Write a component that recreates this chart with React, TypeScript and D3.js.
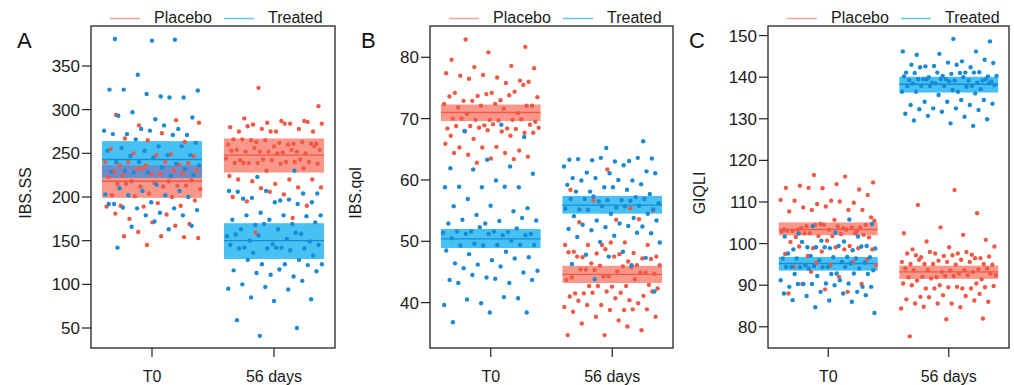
import React from "react";
import * as d3 from "d3";

const timepoints = ["T0", "56 days"];
const groupNames = ["Placebo", "Treated"];

// ---- Panel A: IBS.SS ----
const ibsssTicks = [50, 100, 150, 200, 250, 300, 350];
const ibsssPlaceboT0 = [294, 288, 282, 285, 273, 267, 263, 265, 255, 249, 250, 247, 248, 236, 237, 233, 240, 240, 240, 239, 226, 229, 230, 232, 230, 226, 225, 227, 236, 223, 218, 218, 219, 216, 215, 213, 212, 209, 212, 215, 213, 204, 202, 200, 201, 196, 193, 190, 190, 189, 189, 180, 175, 169, 171, 181, 167, 160, 153, 155, 155, 154, 145];
const ibsssTreatedT0 = [379, 381, 380, 340, 322, 315, 323, 314, 318, 323, 314, 297, 291, 289, 293, 278, 278, 276, 282, 272, 271, 276, 272, 271, 266, 262, 258, 256, 258, 253, 253, 248, 247, 248, 245, 240, 238, 240, 236, 234, 230, 232, 228, 229, 224, 228, 225, 214, 210, 207, 207, 203, 202, 202, 200, 194, 192, 187, 187, 185, 182, 188, 179, 179, 192, 163, 166, 167, 172, 142];
const ibsssPlacebo56 = [325, 304, 287, 290, 287, 285, 280, 284, 283, 275, 275, 275, 278, 278, 284, 284, 281, 286, 275, 266, 261, 263, 261, 262, 266, 263, 265, 260, 260, 265, 261, 258, 254, 252, 252, 254, 251, 252, 250, 252, 253, 254, 256, 258, 250, 242, 243, 243, 244, 240, 239, 240, 242, 239, 240, 239, 238, 238, 239, 233, 230, 224, 220, 218, 220, 215, 220, 211, 210, 211, 203, 195, 190, 206, 200, 176, 159];
const ibsssTreated56 = [230, 223, 204, 196, 198, 204, 207, 207, 197, 199, 194, 194, 206, 192, 182, 179, 179, 179, 178, 174, 174, 169, 168, 171, 163, 163, 158, 169, 155, 152, 150, 149, 146, 157, 159, 156, 145, 142, 142, 141, 141, 145, 139, 136, 133, 142, 141, 128, 123, 123, 123, 128, 122, 111, 116, 109, 113, 115, 117, 100, 104, 97, 95, 94, 85, 83, 81, 59, 50, 41];
const ibsssPlaceboFit = [218, 248];
const ibsssPlaceboLo = [199, 228];
const ibsssPlaceboHi = [236, 267];
const ibsssTreatedFit = [243, 150];
const ibsssTreatedLo = [222, 129];
const ibsssTreatedHi = [264, 170];

// ---- Panel B: IBS.qol ----
const ibsqolTicks = [40, 50, 60, 70, 80];
const ibsqolPlaceboT0 = [82.9, 81.7, 80.8, 79.6, 78.6, 78.4, 78.2, 76.7, 77.0, 76.2, 77.1, 77.4, 75.8, 76.5, 76.0, 74.2, 74.2, 74.4, 73.7, 73.5, 73.0, 72.9, 75.5, 74.0, 73.6, 73.8, 72.9, 72.1, 72.4, 71.8, 70.9, 72.1, 72.4, 71.6, 70.8, 72.1, 69.8, 70.0, 69.8, 69.8, 69.5, 69.7, 70.0, 69.9, 68.9, 68.4, 68.4, 68.8, 69.0, 69.1, 68.8, 68.3, 68.5, 68.5, 67.9, 67.9, 67.7, 68.1, 67.2, 67.2, 66.7, 67.7, 65.4, 65.3, 64.8, 65.3, 65.9, 64.4, 64.1, 63.8, 63.5, 64.4, 63.4, 62.8];
const ibsqolTreatedT0 = [69.0, 68.0, 67.0, 63.3, 61.9, 62.2, 61.7, 61.0, 59.9, 58.9, 58.8, 58.8, 58.8, 58.9, 56.9, 55.4, 55.8, 55.7, 54.9, 54.3, 53.4, 53.3, 53.5, 53.8, 52.9, 52.9, 51.5, 51.6, 51.2, 51.6, 51.6, 52.1, 52.3, 51.4, 51.0, 51.2, 51.0, 51.2, 50.5, 50.1, 49.6, 49.4, 49.4, 49.3, 49.4, 49.3, 48.5, 48.3, 47.9, 47.4, 46.9, 46.4, 47.2, 46.2, 45.2, 45.9, 45.6, 44.9, 44.1, 43.7, 43.2, 44.5, 43.7, 43.9, 43.2, 40.7, 39.9, 39.6, 40.9, 40.5, 38.4, 38.4, 36.8];
const ibsqolPlacebo56 = [61.7, 58.4, 55.4, 56.7, 55.0, 53.5, 53.1, 53.6, 49.4, 49.4, 49.8, 49.4, 49.4, 49.8, 48.3, 48.1, 48.0, 47.5, 47.9, 47.4, 47.2, 48.7, 48.2, 46.7, 46.4, 47.1, 47.5, 47.5, 46.1, 46.0, 46.1, 45.9, 45.4, 44.9, 44.3, 44.1, 45.8, 45.3, 44.7, 45.1, 45.4, 44.9, 44.3, 43.7, 42.7, 42.7, 42.9, 42.6, 41.5, 43.8, 42.7, 42.3, 41.6, 41.5, 41.1, 41.8, 41.0, 40.4, 41.6, 41.8, 40.7, 40.3, 39.9, 39.6, 39.3, 38.8, 39.6, 38.9, 38.8, 38.5, 38.9, 37.7, 37.7, 37.1, 36.6, 35.5, 34.7, 34.7, 36.1];
const ibsqolTreated56 = [66.3, 65.2, 63.3, 63.1, 63.2, 63.5, 63.0, 63.4, 63.6, 63.6, 62.2, 62.4, 61.2, 61.4, 61.1, 60.3, 59.9, 60.3, 61.1, 60.0, 59.9, 59.3, 58.8, 59.2, 58.4, 58.1, 57.7, 58.8, 58.1, 57.2, 56.5, 56.2, 56.7, 56.9, 56.9, 56.7, 56.9, 56.6, 57.3, 55.2, 55.5, 55.2, 55.8, 55.7, 55.3, 55.7, 55.1, 54.5, 54.5, 54.1, 53.8, 53.4, 53.4, 52.9, 52.7, 52.4, 52.3, 52.0, 52.5, 51.8, 51.3, 50.9, 50.7, 51.4, 49.9, 49.8, 48.3, 47.8, 47.3, 47.5, 46.3, 46.1, 43.8, 41.8];
const ibsqolPlaceboFit = [71.0, 44.6];
const ibsqolPlaceboLo = [69.6, 43.2];
const ibsqolPlaceboHi = [72.3, 46.0];
const ibsqolTreatedFit = [50.4, 55.9];
const ibsqolTreatedLo = [48.9, 54.5];
const ibsqolTreatedHi = [52.0, 57.4];

// ---- Panel C: GIQLI ----
const giqliTicks = [80, 90, 100, 110, 120, 130, 140, 150];
const giqliPlaceboT0 = [116.5, 114.7, 114.3, 113.9, 113.0, 113.3, 113.4, 116.1, 113.4, 111.7, 110.3, 110.3, 109.8, 109.5, 110.5, 110.1, 108.7, 108.1, 108.9, 107.7, 108.1, 108.1, 106.3, 105.7, 103.3, 103.1, 104.7, 103.4, 103.7, 104.2, 104.5, 103.3, 103.1, 103.9, 104.5, 105.5, 104.1, 103.7, 103.9, 104.5, 103.1, 103.4, 102.5, 101.5, 101.8, 101.6, 102.5, 101.8, 102.9, 102.3, 102.5, 102.1, 100.7, 100.4, 99.4, 98.9, 98.6, 99.1, 99.3, 98.9, 98.1, 97.5, 98.6, 97.0, 96.1, 94.8, 94.4, 95.6, 95.4, 94.8, 92.0, 90.3, 90.3, 89.0, 88.0, 88.4, 93.2];
const giqliTreatedT0 = [105.8, 104.2, 104.7, 102.6, 102.4, 101.7, 100.7, 101.7, 100.5, 99.1, 99.4, 98.9, 98.6, 98.4, 99.1, 98.8, 99.4, 100.4, 99.3, 99.1, 97.6, 96.8, 97.0, 96.7, 96.7, 96.4, 96.4, 96.0, 96.4, 95.6, 94.8, 95.4, 94.4, 94.4, 95.2, 94.6, 93.6, 92.8, 94.3, 94.0, 94.3, 94.4, 94.4, 94.0, 92.7, 92.7, 92.7, 92.8, 92.2, 91.2, 91.2, 90.3, 89.6, 90.4, 89.6, 90.4, 90.3, 89.6, 90.0, 90.3, 88.4, 88.4, 88.0, 88.0, 87.4, 87.6, 86.3, 86.4, 86.0, 84.7, 83.3];
const giqliPlacebo56 = [112.9, 109.3, 107.3, 103.9, 102.5, 102.1, 100.5, 100.9, 99.1, 98.6, 97.3, 97.6, 99.3, 97.6, 96.7, 96.5, 97.0, 97.6, 98.0, 98.0, 96.9, 97.2, 97.2, 96.5, 95.9, 95.6, 96.1, 95.1, 95.1, 95.6, 95.1, 95.6, 95.1, 94.9, 94.9, 96.1, 93.8, 93.2, 94.0, 93.6, 93.6, 94.0, 93.5, 93.6, 93.2, 91.9, 92.4, 92.8, 92.0, 91.4, 92.2, 91.9, 92.4, 91.6, 92.8, 92.2, 91.1, 90.4, 90.0, 90.4, 89.2, 89.2, 89.5, 89.5, 90.0, 89.2, 89.2, 89.8, 89.6, 87.2, 87.9, 87.6, 86.6, 87.4, 87.1, 86.0, 85.6, 85.6, 86.3, 85.6, 84.4, 84.7, 84.8, 82.0, 81.8, 77.7];
const giqliTreated56 = [148.6, 149.2, 145.4, 146.2, 145.6, 146.2, 143.8, 142.6, 144.2, 143.5, 143.0, 142.4, 142.7, 143.4, 143.0, 142.4, 141.2, 140.3, 141.1, 141.1, 140.0, 140.2, 140.8, 141.0, 141.1, 141.1, 140.3, 141.0, 139.5, 139.2, 139.5, 139.3, 139.2, 138.7, 139.0, 139.2, 139.5, 138.7, 139.5, 140.2, 140.0, 139.5, 139.5, 139.0, 138.5, 137.9, 138.5, 138.1, 136.5, 137.9, 137.1, 137.9, 137.9, 137.7, 137.9, 138.5, 136.9, 136.5, 136.1, 135.7, 136.5, 134.5, 134.1, 134.5, 134.1, 133.3, 133.3, 132.5, 133.6, 132.5, 132.3, 132.1, 131.7, 131.2, 130.5, 130.7, 129.9, 128.9, 129.6, 128.3];
const giqliPlaceboFit = [103.4, 93.2];
const giqliPlaceboLo = [102.0, 91.5];
const giqliPlaceboHi = [105.1, 94.7];
const giqliTreatedFit = [95.2, 138.3];
const giqliTreatedLo = [93.5, 136.3];
const giqliTreatedHi = [96.8, 140.1];

// ---- styling / layout ----
const FONT = "'Liberation Sans', Arial, Helvetica, sans-serif";
const COL = {
  Placebo: { pt: "#EE5A46", band: "#F86F5E", line: "#EE5B48", legend: "#F4A098" },
  Treated: { pt: "#1A8AD5", band: "#00A8F0", line: "#138FD8", legend: "#5DC3EC" },
};
const OVERLAP = "#6E8CCB";

type Panel = {
  letter: string;
  letterX: number;
  ylab: string;
  ylabX: number;
  left: number;
  right: number;
  domain: [number, number];
  ticks: number[];
  pts: { Placebo: number[][]; Treated: number[][] };
  fit: { Placebo: number[][]; Treated: number[][] };
};

const panels: Panel[] = [
  {
    letter: "A", letterX: 17, ylab: "IBS.SS", ylabX: 31, left: 91, right: 335, domain: [27.1, 395.8], ticks: ibsssTicks,
    pts: { Placebo: [ibsssPlaceboT0, ibsssPlacebo56], Treated: [ibsssTreatedT0, ibsssTreated56] },
    fit: { Placebo: [ibsssPlaceboFit, ibsssPlaceboLo, ibsssPlaceboHi], Treated: [ibsssTreatedFit, ibsssTreatedLo, ibsssTreatedHi] },
  },
  {
    letter: "B", letterX: 361, ylab: "IBS.qol", ylabX: 361, left: 430, right: 673, domain: [32.6, 85.1], ticks: ibsqolTicks,
    pts: { Placebo: [ibsqolPlaceboT0, ibsqolPlacebo56], Treated: [ibsqolTreatedT0, ibsqolTreated56] },
    fit: { Placebo: [ibsqolPlaceboFit, ibsqolPlaceboLo, ibsqolPlaceboHi], Treated: [ibsqolTreatedFit, ibsqolTreatedLo, ibsqolTreatedHi] },
  },
  {
    letter: "C", letterX: 689, ylab: "GIQLI", ylabX: 705, left: 768, right: 1009, domain: [74.9, 152.3], ticks: giqliTicks,
    pts: { Placebo: [giqliPlaceboT0, giqliPlacebo56], Treated: [giqliTreatedT0, giqliTreated56] },
    fit: { Placebo: [giqliPlaceboFit, giqliPlaceboLo, giqliPlaceboHi], Treated: [giqliTreatedFit, giqliTreatedLo, giqliTreatedHi] },
  },
];

const TOP = 26;
const BOTTOM = 348;
const PHI = 0.6180339887;

function jitter(i: number, seed: number) {
  const v = (i * PHI + seed) % 1;
  return v - 0.5;
}

function PanelView({ p, pi }: { p: Panel; pi: number }) {
  const y = d3.scaleLinear().domain(p.domain).range([BOTTOM, TOP]);
  const x = d3.scalePoint<string>().domain(timepoints).range([p.left, p.right]).padding(0.5);
  const step = x.step();
  const hw = step * 0.41;
  const gName = groupNames as ("Placebo" | "Treated")[];

  return (
    <g>
      {/* legend */}
      <g fontFamily={FONT} fontSize={16} fill="#1a1a1a">
        <line x1={p.left + 19} x2={p.left + 49} y1={18.5} y2={18.5} stroke={COL.Placebo.legend} strokeWidth={1.5} />
        <text x={p.left + 63} y={23}>Placebo</text>
        <line x1={p.left + 133} x2={p.left + 163} y1={18.5} y2={18.5} stroke={COL.Treated.legend} strokeWidth={1.5} />
        <text x={p.left + 177} y={23}>Treated</text>
      </g>
      <text x={p.letterX} y={48} fontFamily={FONT} fontSize={22} fill="#111">{p.letter}</text>

      {/* bands */}
      {timepoints.map((t, ti) => {
        const cx = x(t)!;
        const els: any[] = [];
        gName.forEach((g) => {
          const [, lo, hi] = p.fit[g];
          els.push(
            <rect key={g + "b" + ti} x={cx - hw} width={2 * hw} y={y(hi[ti])} height={y(lo[ti]) - y(hi[ti])}
              fill={COL[g].band} fillOpacity={0.72} />
          );
        });
        const oLo = Math.max(p.fit.Placebo[1][ti], p.fit.Treated[1][ti]);
        const oHi = Math.min(p.fit.Placebo[2][ti], p.fit.Treated[2][ti]);
        if (oHi > oLo) {
          els.push(<rect key={"ov" + ti} x={cx - hw} width={2 * hw} y={y(oHi)} height={y(oLo) - y(oHi)} fill={OVERLAP} />);
        }
        gName.forEach((g) => {
          const [fit] = p.fit[g];
          els.push(
            <line key={g + "l" + ti} x1={cx - hw} x2={cx + hw} y1={y(fit[ti])} y2={y(fit[ti])} stroke={COL[g].line} strokeWidth={1.4} />
          );
        });
        return <g key={t}>{els}</g>;
      })}

      {/* points */}
      {timepoints.map((t, ti) => {
        const cx = x(t)!;
        return gName.map((g, gi) => (
          <g key={t + g} fill={COL[g].pt}>
            {p.pts[g][ti].map((v, i) => (
              <circle key={i} cx={cx + jitter(i, 0.13 + gi * 0.37 + ti * 0.21 + pi * 0.11) * 2 * hw * 0.97} cy={y(v)} r={2.2} />
            ))}
          </g>
        ));
      })}

      {/* frame */}
      <rect x={p.left} y={TOP} width={p.right - p.left} height={BOTTOM - TOP} fill="none" stroke="#222" strokeWidth={1.3} />

      {/* y axis */}
      <g fontFamily={FONT} fontSize={17} fill="#1a1a1a">
        {p.ticks.map((tv) => (
          <g key={tv}>
            <line x1={p.left - 9} x2={p.left} y1={y(tv)} y2={y(tv)} stroke="#222" strokeWidth={1.2} />
            <text x={p.left - 11} y={y(tv)} dy="0.36em" textAnchor="end">{tv}</text>
          </g>
        ))}
      </g>
      {/* x axis */}
      <g fontFamily={FONT} fontSize={16} fill="#1a1a1a">
        {timepoints.map((t) => (
          <g key={t}>
            <line x1={x(t)!} x2={x(t)!} y1={BOTTOM} y2={BOTTOM + 9} stroke="#222" strokeWidth={1.2} />
            <text x={x(t)!} y={382} textAnchor="middle">{t}</text>
          </g>
        ))}
      </g>
      <text transform={`translate(${p.ylabX},193) rotate(-90)`} textAnchor="middle" fontFamily={FONT} fontSize={16} fill="#1a1a1a">
        {p.ylab}
      </text>
    </g>
  );
}

export default function App() {
  return (
    <svg width={1014} height={385} style={{ position: "absolute", left: 0, top: 0, background: "#fff" }}>
      <rect width={1014} height={385} fill="#fff" />
      {panels.map((p, i) => (
        <PanelView key={p.letter} p={p} pi={i} />
      ))}
    </svg>
  );
}
